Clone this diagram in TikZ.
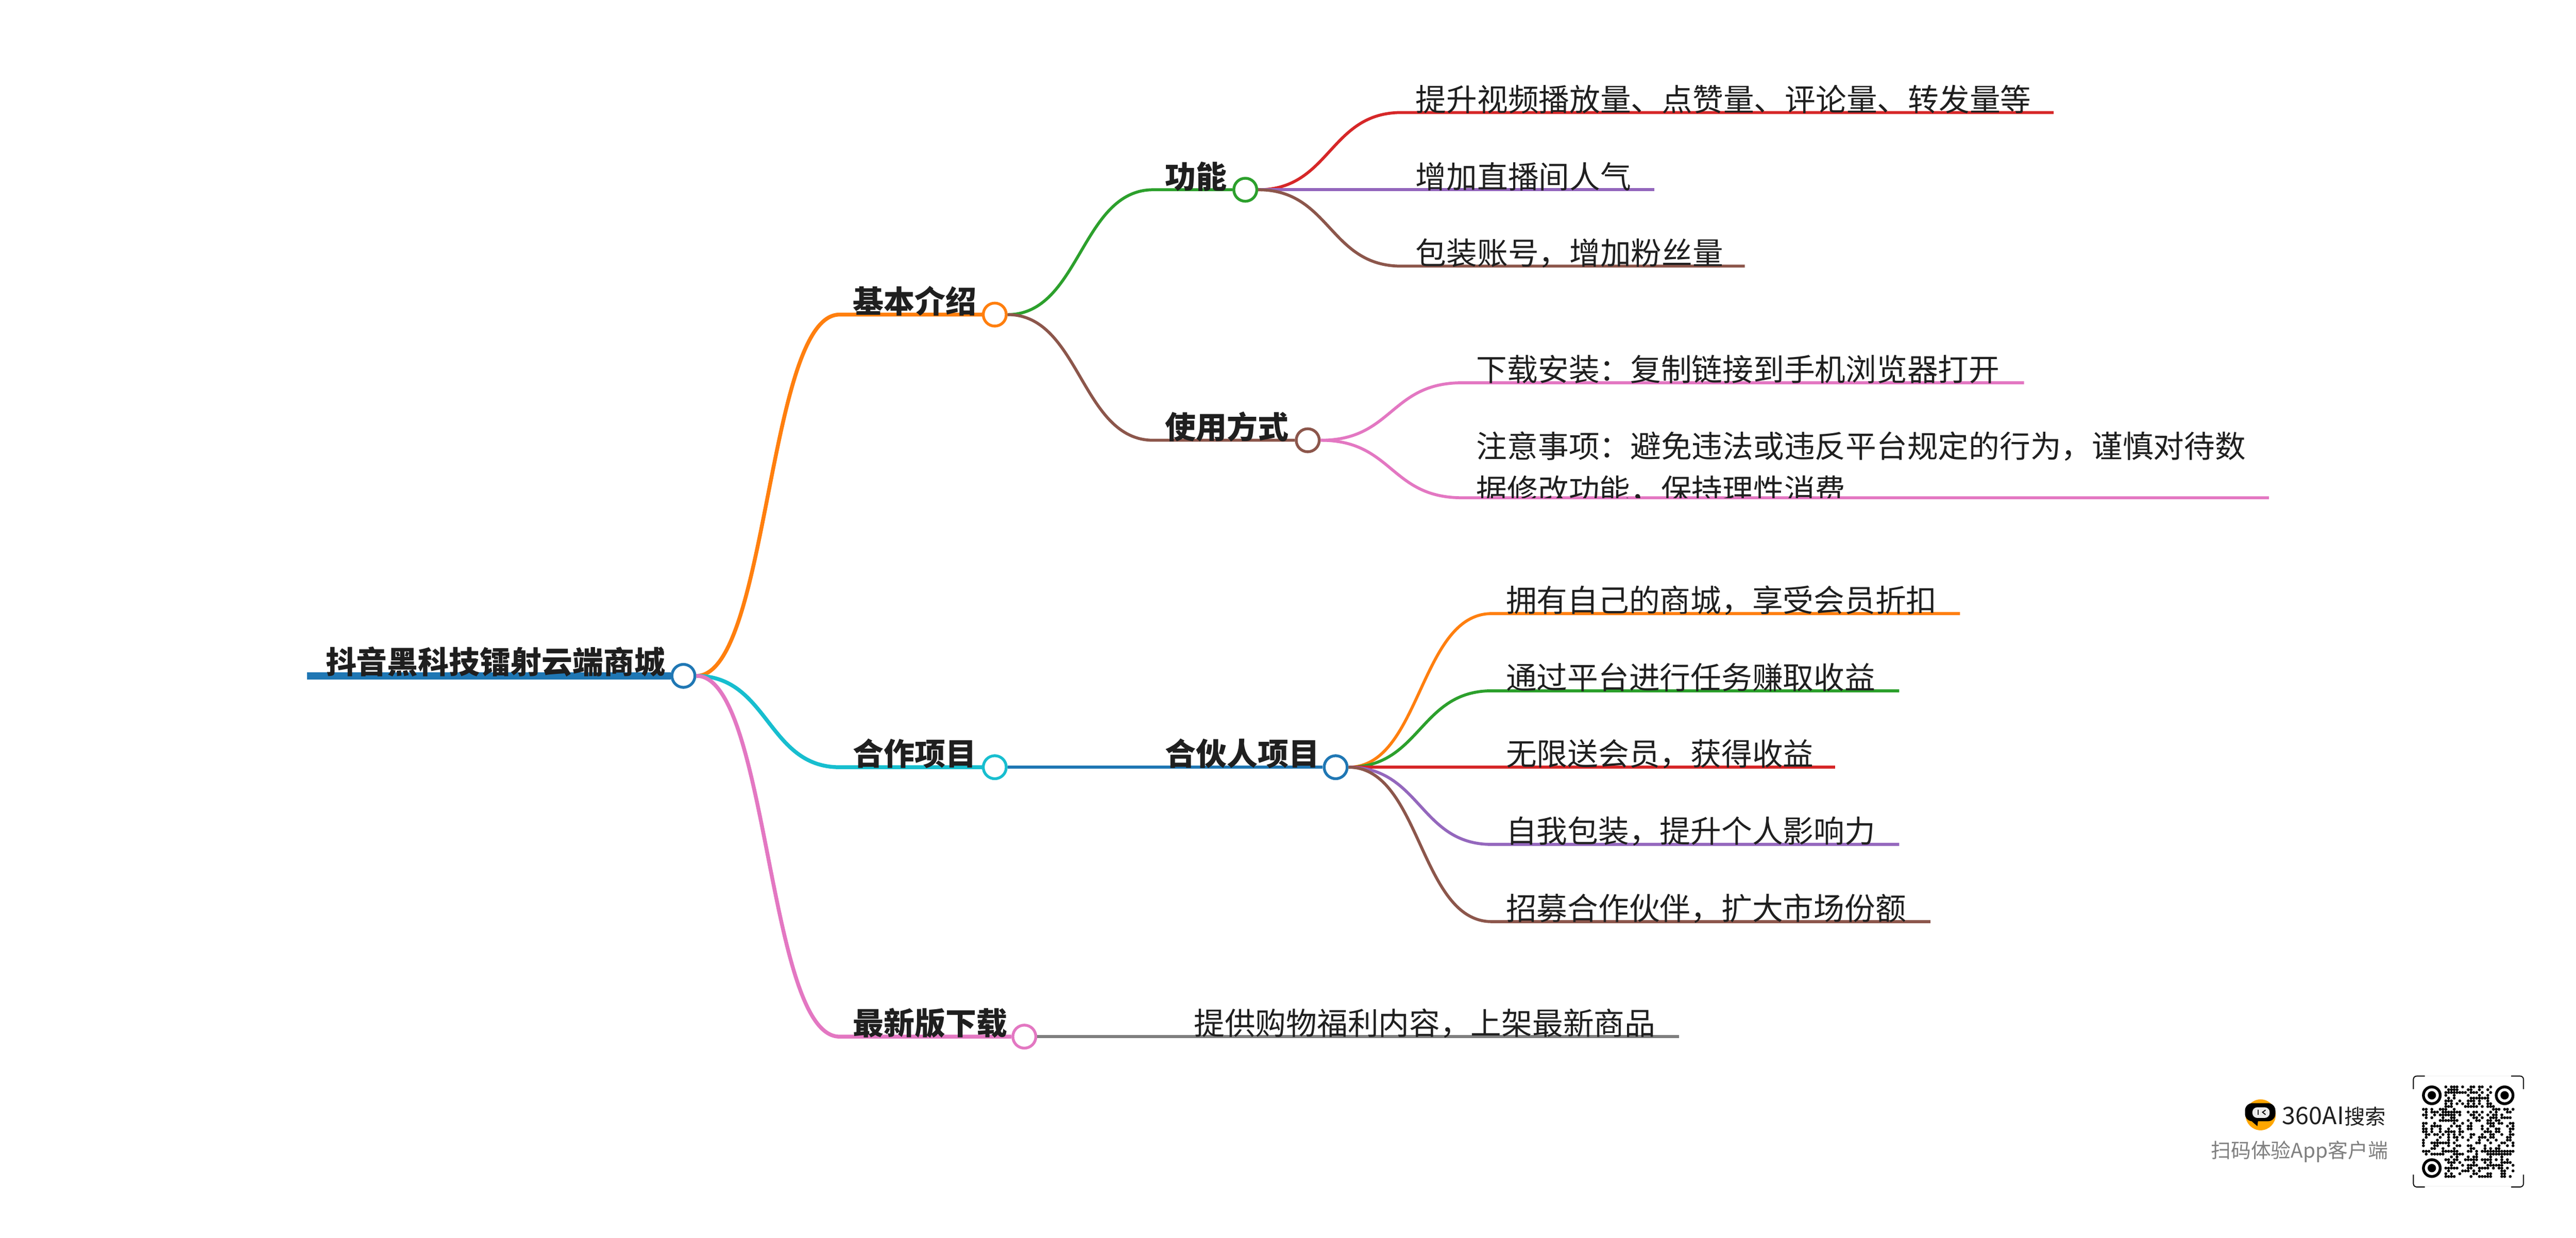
\documentclass[tikz,border=0pt]{standalone}
\usepackage{fontspec}
\usepackage{xcolor}
\setmainfont{Noto Sans CJK SC}
\definecolor{cblue}{HTML}{1F77B4}
\definecolor{corange}{HTML}{FF7F0E}
\definecolor{cgreen}{HTML}{2CA02C}
\definecolor{cred}{HTML}{D62728}
\definecolor{cpurple}{HTML}{9467BD}
\definecolor{cbrown}{HTML}{8C564B}
\definecolor{cpink}{HTML}{E377C2}
\definecolor{cgray}{HTML}{7F7F7F}
\definecolor{ccyan}{HTML}{17BECF}
\definecolor{ctext}{HTML}{1F1F1F}
\newcommand{\wcomma}{\char"FF0C\relax}
\newcommand{\wcolon}{\char"FF1A\relax}
\tikzset{
  dot/.style={circle,draw=#1,fill=white,line width=0.017cm,minimum size=0.14cm,inner sep=0pt},
  swoop/.style={out=0,in=180,distance=0.44cm},
  thickline/.style={line width=0.0235cm},
  thinline/.style={line width=0.018cm},
  rootlabel/.style={anchor=base west,inner sep=0pt,text=ctext,font=\fontsize{5.35}{6.4}\selectfont\bfseries},
  headlabel/.style={anchor=base west,inner sep=0pt,text=ctext,font=\fontsize{5.35}{6.4}\selectfont\bfseries},
  leaflabel/.style={anchor=base west,inner sep=0pt,text=ctext,font=\fontsize{5.33}{6.4}\selectfont},
  qrbracket/.style={line width=0.006cm,rounded corners=0.02cm,black}
}
\begin{document}
\begin{tikzpicture}[y=-1cm]
\useasboundingbox (0,0) rectangle (15.68,7.535);
% dots
\node[dot=cblue] (root) at (4.16,4.114) {};
\node[dot=corange] (intro) at (6.055,1.915) {};
\node[dot=ccyan] (coop) at (6.055,4.67) {};
\node[dot=cpink] (latest) at (6.235,6.31) {};
\node[dot=cgreen] (func) at (7.58,1.155) {};
\node[dot=cbrown] (usage) at (7.96,2.68) {};
\node[dot=cblue] (partner) at (8.13,4.67) {};
% bends and line ends
\coordinate (introbend) at (5.11,1.915);
\coordinate (coopbend) at (5.11,4.67);
\coordinate (latestbend) at (5.11,6.31);
\coordinate (funcbend) at (7.02,1.155);
\coordinate (usagebend) at (7.02,2.68);
\coordinate (rootend) at (1.87,4.114);
\coordinate (latestend) at (10.22,6.31);
\coordinate (f1bend) at (8.53,0.685);
\coordinate (f1end) at (12.5,0.685);
\coordinate (f2end) at (10.07,1.155);
\coordinate (f3bend) at (8.53,1.62);
\coordinate (f3end) at (10.62,1.62);
\coordinate (u1bend) at (8.9,2.33);
\coordinate (u1end) at (12.32,2.33);
\coordinate (u2bend) at (8.9,3.03);
\coordinate (u2end) at (13.81,3.03);
\coordinate (p1bend) at (9.08,3.735);
\coordinate (p1end) at (11.93,3.735);
\coordinate (p2bend) at (9.08,4.205);
\coordinate (p2end) at (11.56,4.205);
\coordinate (p3end) at (11.17,4.67);
\coordinate (p4bend) at (9.08,5.14);
\coordinate (p4end) at (11.56,5.14);
\coordinate (p5bend) at (9.08,5.61);
\coordinate (p5end) at (11.75,5.61);
% connectors
\draw[cblue,line width=0.045cm] (rootend) -- (root.west);
\draw[corange,thickline] (root.east) to[swoop] (introbend) -- (intro.west);
\draw[ccyan,thickline] (root.east) to[swoop] (coopbend) -- (coop.west);
\draw[cpink,thickline] (root.east) to[swoop] (latestbend) -- (latest.west);
\draw[cgreen,thinline] (intro.east) to[swoop] (funcbend) -- (func.west);
\draw[cbrown,thinline] (intro.east) to[swoop] (usagebend) -- (usage.west);
\draw[cblue,thinline] (coop.east) -- (partner.west);
\draw[cgray,thinline] (latest.east) -- (latestend);
\draw[cred,thinline] (func.east) to[swoop] (f1bend) -- (f1end);
\draw[cpurple,thinline] (func.east) -- (f2end);
\draw[cbrown,thinline] (func.east) to[swoop] (f3bend) -- (f3end);
\draw[cpink,thinline] (usage.east) to[swoop] (u1bend) -- (u1end);
\draw[cpink,thinline] (usage.east) to[swoop] (u2bend) -- (u2end);
\draw[corange,thinline] (partner.east) to[swoop] (p1bend) -- (p1end);
\draw[cgreen,thinline] (partner.east) to[swoop] (p2bend) -- (p2end);
\draw[cred,thinline] (partner.east) -- (p3end);
\draw[cpurple,thinline] (partner.east) to[swoop] (p4bend) -- (p4end);
\draw[cbrown,thinline] (partner.east) to[swoop] (p5bend) -- (p5end);
% labels
\node[rootlabel] (roottext) at (1.975,4.10) {抖音黑科技镭射云端商城};
\node[headlabel] (introtext) at (5.185,1.905) {基本介绍};
\node[headlabel] (cooptext) at (5.185,4.66) {合作项目};
\node[headlabel] (latesttext) at (5.185,6.30) {最新版下载};
\node[headlabel] (functext) at (7.085,1.145) {功能};
\node[headlabel] (usagetext) at (7.085,2.67) {使用方式};
\node[headlabel] (partnertext) at (7.085,4.66) {合伙人项目};
\node[leaflabel] (f1text) at (8.61,0.675) {提升视频播放量、点赞量、评论量、转发量等};
\node[leaflabel] (f2text) at (8.61,1.145) {增加直播间人气};
\node[leaflabel] (f3text) at (8.61,1.61) {包装账号\wcomma 增加粉丝量};
\node[leaflabel] (u1text) at (8.98,2.32) {下载安装\wcolon 复制链接到手机浏览器打开};
\node[leaflabel] (u2text) at (8.98,2.785) {注意事项\wcolon 避免违法或违反平台规定的行为\wcomma 谨慎对待数};
\begin{scope}
  \clip (8.9,2.85) rectangle (13.7,3.03);
  \node[leaflabel] (u3text) at (8.98,3.054) {据修改功能\wcomma 保持理性消费};
\end{scope}
\node[leaflabel] (p1text) at (9.16,3.725) {拥有自己的商城\wcomma 享受会员折扣};
\node[leaflabel] (p2text) at (9.16,4.195) {通过平台进行任务赚取收益};
\node[leaflabel] (p3text) at (9.16,4.66) {无限送会员\wcomma 获得收益};
\node[leaflabel] (p4text) at (9.16,5.13) {自我包装\wcomma 提升个人影响力};
\node[leaflabel] (p5text) at (9.16,5.60) {招募合作伙伴\wcomma 扩大市场份额};
\node[leaflabel] (l1text) at (7.26,6.30) {提供购物福利内容\wcomma 上架最新商品};
% brand
\fill[orange!70!yellow] (13.76,6.786) ellipse (0.092 and 0.094);
\fill[black,rounded corners=0.045cm] (13.665,6.715) rectangle (13.85,6.825);
\fill[black] (13.70,6.82) -- (13.745,6.82) -- (13.74,6.855) -- cycle;
\fill[white!92!black,rounded corners=0.03cm] (13.71,6.74) rectangle (13.815,6.805);
\draw[black,line width=0.006cm] (13.745,6.755) -- (13.745,6.785);
\draw[black,line width=0.006cm] (13.79,6.757) -- (13.772,6.77) -- (13.79,6.785);
\node[anchor=west,inner sep=0pt,text=ctext,font=\fontsize{4.18}{5}\selectfont] (brandname) at (13.885,6.795) {360AI{\fontsize{3.6}{5}\selectfont 搜索}};
\node[anchor=west,inner sep=0pt,text=cgray,font=\fontsize{3.47}{4.2}\selectfont] (brandhint) at (13.45,7.01) {扫码体验App客户端};
% qr frame
\draw[gray!12,line width=0.004cm] (14.76,6.55) -- (15.28,6.55);
\draw[gray!12,line width=0.004cm] (14.76,7.22) -- (15.28,7.22);
\draw[qrbracket] (14.69,6.63) -- (14.69,6.55) -- (14.76,6.55);
\draw[qrbracket] (15.285,6.55) -- (15.36,6.55) -- (15.36,6.63);
\draw[qrbracket] (14.69,7.15) -- (14.69,7.225) -- (14.76,7.225);
\draw[qrbracket] (15.285,7.225) -- (15.36,7.225) -- (15.36,7.15);
% qr code
\begin{scope}[shift={(14.751,6.616)},x=0.01705cm,y=-0.01705cm]
  \foreach \cx/\cy in {3/3,29/3,3/29} {
    \draw[black,line width=0.017cm] (\cx,\cy) circle (3);
    \fill[black] (\cx,\cy) circle (1.5);
  }
  \foreach \r/\cols in {
    0/{8,10,11,12,14,17,18,20,21,24},
    1/{9,10,11,12,16,17,20,23},
    2/{8,9,10,11,12,13,14,15,17,18,19,21,24},
    3/{8,11,16,20,23},
    4/{9,11,17,18,19,20,21,22,23},
    5/{8,9,10,13,16,17,18,20,23},
    6/{8,10,12,14,16,18,20,23,24},
    7/{8,9,10,15,16,17,18,19,21,23,24,25},
    8/{0,1,3,6,7,8,11,25,26,27,29,30,32},
    9/{1,3,4,5,7,8,9,10,11,12,13,16,18,19,21,24,26,30,31},
    10/{0,1,4,6,7,8,9,10,11,13,17,18,20,23,25,26,28},
    11/{1,3,7,10,11,18,19,21,24,25,26,28,29,30,31},
    12/{6,7,8,9,10,11,12,16,19,20,23,24,26,27},
    13/{0,1,4,11,14,17,23,24,25,27,28,31,32},
    14/{0,3,4,5,6,10,12,13,16,17,21,24,25,30,32},
    15/{0,1,3,6,9,13,16,17,21,23,26,27,31,32},
    16/{0,1,3,6,8,9,10,11,13,14,22,23,24,26,27,31},
    17/{1,2,4,5,7,9,11,13,17,18,21,24,25,28,31,32},
    18/{1,6,9,11,12,14,17,20,21,22,24,25,30,31},
    19/{0,5,9,12,16,20,23,26,30,31},
    20/{0,3,4,5,6,7,8,9,11,19,20,24,28,29,32},
    21/{0,4,5,9,12,13,16,17,22,27,30,32},
    22/{3,4,7,11,17,18,22,24,26,27},
    23/{0,1,2,7,8,9,10,11,12,16,17,19,21,22,23,24,25,26,27,28,29,30,31,32},
    24/{1,3,4,5,6,7,11,12,13,14,19,23,24,25,26,27,28,29,30,31},
    25/{10,12,16,18,19,24,28},
    26/{8,9,11,12,15,16,17,18,19,21,22,23,24,26,28,30},
    27/{9,10,11,13,18,22,24,28,29,30,31},
    28/{10,14,16,17,18,19,23,24,25,26,27,28,32},
    29/{8,9,10,11,12,16,17,20,21,22,23,25,27,28,30},
    30/{9,14,15,16,18,20,28,29,32},
    31/{8,10,13,18,19,23,24,28,29},
    32/{8,9,10,11,17,20,21,22,23,24,28,29,31}} {
    \foreach \c in \cols {
      \fill[black] (\c,\r) circle (0.52);
    }
  }
\end{scope}
\end{tikzpicture}
\end{document}
